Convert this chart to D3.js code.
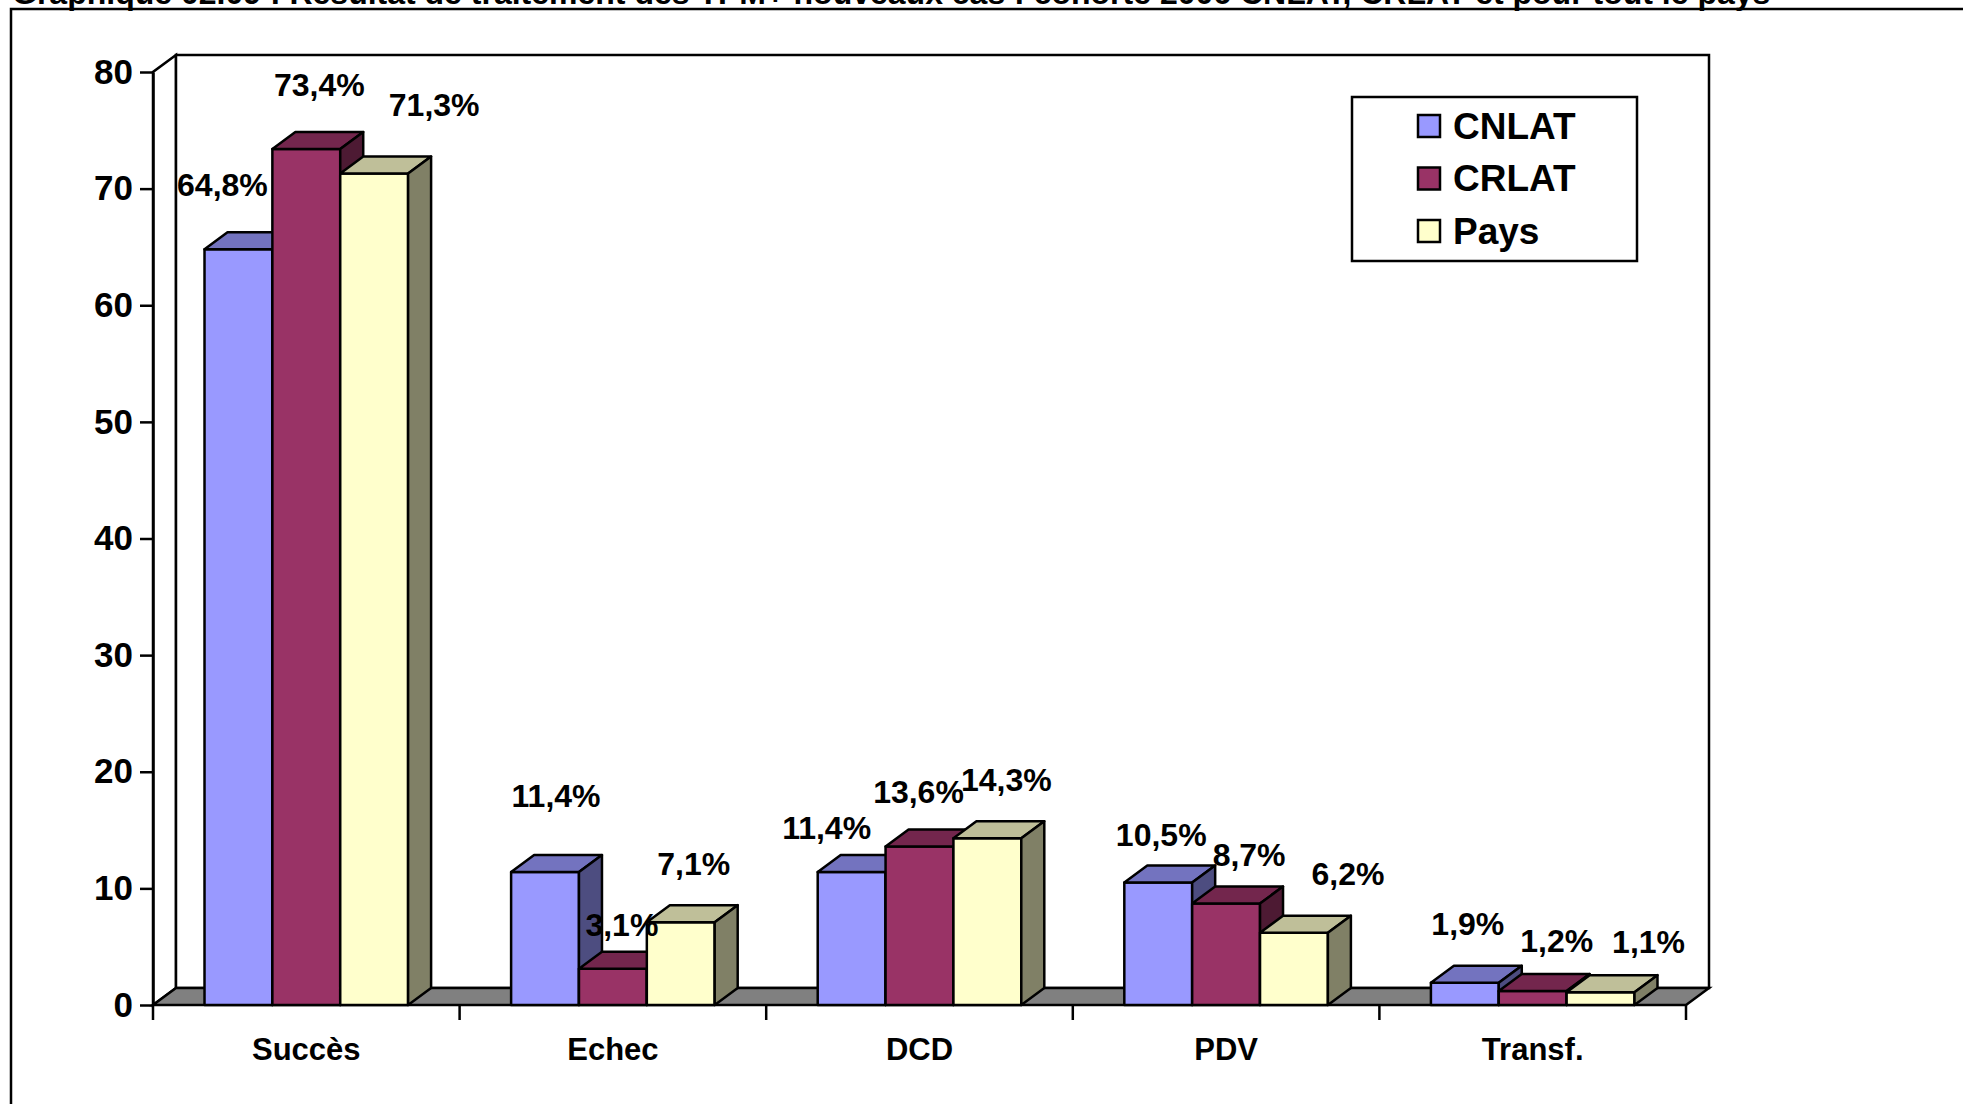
<!DOCTYPE html>
<html>
<head>
<meta charset="utf-8">
<script src="https://cdn.jsdelivr.net/npm/d3@7"></script>
<style>
  body { margin: 0; background: #fff; }
  svg { display: block; font-family: "Liberation Sans", Arial, sans-serif; font-weight: bold; }
</style>
</head>
<body>
<div id="chart"></div>
<script>
const categories = ["Succès", "Echec", "DCD", "PDV", "Transf."];
const seriesNames = ["CNLAT", "CRLAT", "Pays"];
const cnlat = [64.8, 11.4, 11.4, 10.5, 1.9];
const crlat = [73.4, 3.1, 13.6, 8.7, 1.2];
const pays = [71.3, 7.1, 14.3, 6.2, 1.1];
const yTicks = [0, 10, 20, 30, 40, 50, 60, 70, 80];
const title = "Graphique 02.09 : Résultat de traitement des TPM+ nouveaux cas : cohorte 2006 CNLAT, CRLAT et pour tout le pays";

// front / top / side shades per series
const colors = {
    CNLAT: ["#9999ff", "#7373bf", "#4d4d80"],
    CRLAT: ["#993366", "#73264d", "#4d1a33"],
    Pays: ["#ffffcc", "#bfbf99", "#808066"]
};

// hand placed data labels (offset from the bar's front top centre), as in the original
const labelNudge = [
    [[-16, -64], [11, -76], [-25, -44], [3, -48], [3, -59]],
    [[13, -64], [9, -44], [-1, -54], [23, -49], [24, -50]],
    [[60, -68], [13, -58], [19, -58], [54, -59], [48, -50]]
];

const values = [cnlat, crlat, pays];
const width = 1963, height = 1104;
const dx = 23, dy = -17;   // depth of the 3d box
const plotLeft = 153, plotRight = 1686, plotBottom = 1005, plotTop = 72;

const svg = d3.select("#chart").append("svg")
    .attr("width", width)
    .attr("height", height);

// title, cut off by the top of the page like in the scan
svg.append("text")
    .attr("x", 12)
    .attr("y", 4)
    .attr("font-size", 32)
    .text(title);

// outer frame
svg.append("rect")
    .attr("x", 11).attr("y", 9)
    .attr("width", 2100).attr("height", 1200)
    .attr("fill", "none")
    .attr("stroke", "#000")
    .attr("stroke-width", 2.5);

const y = d3.scaleLinear().domain([0, 80]).range([plotBottom, plotTop]);
const x0 = d3.scaleBand().domain(categories).range([plotLeft, plotRight]);
const pad = x0.bandwidth() * 0.168;
const x1 = d3.scaleBand().domain(seriesNames).range([pad, x0.bandwidth() - pad]);

const line = d3.line();

// left wall, back wall, floor
svg.append("path")
    .attr("d", line([[plotLeft, plotBottom], [plotLeft, plotTop], [plotLeft + dx, plotTop + dy], [plotLeft + dx, plotBottom + dy]]) + "Z")
    .attr("fill", "#fff").attr("stroke", "#000").attr("stroke-width", 2.5);
svg.append("rect")
    .attr("x", plotLeft + dx).attr("y", plotTop + dy)
    .attr("width", plotRight - plotLeft).attr("height", plotBottom - plotTop)
    .attr("fill", "#fff").attr("stroke", "#000").attr("stroke-width", 2.5);
svg.append("path")
    .attr("d", line([[plotLeft, plotBottom], [plotRight, plotBottom], [plotRight + dx, plotBottom + dy], [plotLeft + dx, plotBottom + dy]]) + "Z")
    .attr("fill", "#808080").attr("stroke", "#000").attr("stroke-width", 2.5);

// y axis
const yAxis = svg.append("g")
    .attr("transform", `translate(${plotLeft},0)`)
    .call(d3.axisLeft(y).tickValues(yTicks).tickSize(13).tickPadding(7).tickSizeOuter(0));
yAxis.select(".domain").attr("stroke-width", 2.5);
yAxis.selectAll(".tick line").attr("stroke-width", 2.5);
yAxis.selectAll(".tick text")
    .attr("font-size", 35)
    .attr("font-family", "Liberation Sans, Arial, sans-serif")
    .attr("font-weight", "bold")
    .attr("fill", "#000");

// x axis: ticks between categories, labels centred
const xAxis = svg.append("g").attr("transform", `translate(0,${plotBottom})`);
xAxis.selectAll("line")
    .data(categories.concat([null]))
    .enter().append("line")
    .attr("x1", (d, i) => i < categories.length ? x0(d) : plotRight)
    .attr("x2", (d, i) => i < categories.length ? x0(d) : plotRight)
    .attr("y1", 0).attr("y2", 15)
    .attr("stroke", "#000").attr("stroke-width", 2.5);
xAxis.selectAll("text")
    .data(categories)
    .enter().append("text")
    .attr("x", d => x0(d) + x0.bandwidth() / 2)
    .attr("y", 44)
    .attr("text-anchor", "middle")
    .attr("dominant-baseline", "central")
    .attr("font-size", 31)
    .text(d => d);

// bars, drawn left to right so each one covers its neighbour's side face
const bars = [];
categories.forEach((c, ci) => {
    seriesNames.forEach((s, si) => {
        bars.push({ cat: c, ci, series: s, si, value: values[si][ci] });
    });
});

const barG = svg.append("g");
bars.forEach(b => {
    const bx = x0(b.cat) + x1(b.series);
    const bw = x1.bandwidth();
    const by = y(b.value);
    const g = barG.append("g")
        .attr("stroke", "#000")
        .attr("stroke-width", 2.5)
        .attr("stroke-linejoin", "round");
    g.append("rect")
        .attr("x", bx).attr("y", by)
        .attr("width", bw).attr("height", plotBottom - by)
        .attr("fill", colors[b.series][0]);
    g.append("path")
        .attr("d", line([[bx, by], [bx + dx, by + dy], [bx + bw + dx, by + dy], [bx + bw, by]]) + "Z")
        .attr("fill", colors[b.series][1]);
    g.append("path")
        .attr("d", line([[bx + bw, by], [bx + bw + dx, by + dy], [bx + bw + dx, plotBottom + dy], [bx + bw, plotBottom]]) + "Z")
        .attr("fill", colors[b.series][2]);
});

// data labels
svg.append("g").selectAll("text")
    .data(bars)
    .enter().append("text")
    .attr("x", d => x0(d.cat) + x1(d.series) + x1.bandwidth() / 2 + labelNudge[d.si][d.ci][0])
    .attr("y", d => y(d.value) + labelNudge[d.si][d.ci][1])
    .attr("text-anchor", "middle")
    .attr("dominant-baseline", "central")
    .attr("font-size", 32)
    .text(d => d3.format(".1f")(d.value).replace(".", ",") + "%");

// legend
const legend = svg.append("g");
legend.append("rect")
    .attr("x", 1352).attr("y", 97)
    .attr("width", 285).attr("height", 164)
    .attr("fill", "#fff").attr("stroke", "#000").attr("stroke-width", 2.5);
const item = legend.selectAll(".item")
    .data(seriesNames)
    .enter().append("g")
    .attr("transform", (d, i) => `translate(1418,${126 + i * 52.5})`);
item.append("rect")
    .attr("x", 0).attr("y", -11)
    .attr("width", 22).attr("height", 22)
    .attr("fill", d => colors[d][0])
    .attr("stroke", "#000").attr("stroke-width", 2.5);
item.append("text")
    .attr("x", 35).attr("y", 0)
    .attr("dominant-baseline", "central")
    .attr("font-size", 37)
    .text(d => d);
</script>
</body>
</html>
